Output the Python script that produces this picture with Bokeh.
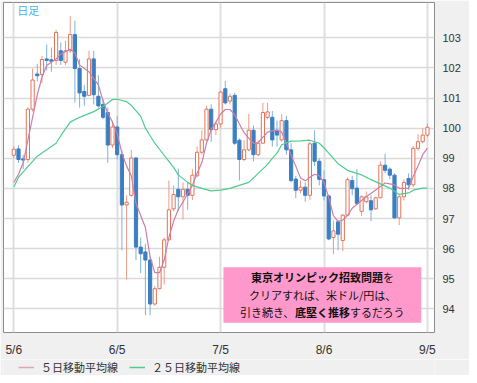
from bokeh.plotting import figure
from bokeh.layouts import column
from bokeh.models import (Range1d, FixedTicker, Legend, LegendItem, Label,
                          BoxAnnotation, ColumnDataSource)
from bokeh.embed import file_html
from bokeh.resources import INLINE

# ---- data (USD/JPY daily, trading-day index) ----
date_labels = ["5/6", "6/5", "7/5", "8/6", "9/5"]
date_index = [0, 22, 44, 66, 88]
price_ticks = [94, 95, 96, 97, 98, 99, 100, 101, 102, 103]
series_names = ["５日移動平均線", "２５日移動平均線"]

opens = [99.10, 99.31, 98.98, 98.96, 100.63, 101.80, 101.78, 102.30, 102.27, 102.25,
         102.57, 102.19, 102.57, 103.11, 101.98, 101.22, 101.09, 102.30, 101.06, 100.79,
         100.52, 99.44, 100.04, 99.12, 97.45, 97.77, 99.01, 96.05, 95.89, 95.62,
         94.16, 94.67, 95.38, 96.29, 97.32, 97.97, 97.72, 97.97, 97.77, 98.42,
         99.20, 99.61, 100.63, 99.95, 100.14, 101.31, 100.90, 101.09, 99.60, 98.96,
         99.28, 99.93, 99.12, 99.50, 100.36, 100.36, 99.93, 99.61, 100.25, 99.28,
         98.31, 97.94, 98.04, 97.77, 99.50, 98.90, 98.29, 97.75, 96.37, 96.89,
         96.27, 97.11, 98.26, 98.01, 97.24, 97.56, 97.59, 97.32, 97.69, 98.77,
         98.64, 98.44, 97.02, 97.72, 98.33, 98.12, 99.33, 99.55, 99.77]
highs = [99.40, 99.44, 99.12, 100.70, 101.98, 102.14, 102.40, 102.78, 102.68, 103.27,
         102.85, 102.90, 103.72, 103.57, 102.30, 101.44, 102.57, 102.57, 101.76, 100.95,
         100.68, 100.25, 100.41, 99.28, 97.77, 99.28, 99.04, 96.37, 96.16, 95.73,
         94.76, 95.73, 96.37, 98.26, 98.10, 98.66, 98.20, 98.20, 98.64, 99.39,
         99.93, 100.74, 100.79, 100.20, 101.25, 101.57, 101.14, 101.17, 99.66, 99.60,
         100.47, 100.09, 99.60, 100.84, 100.84, 100.57, 100.25, 100.47, 100.41, 99.50,
         98.42, 98.26, 98.20, 99.55, 99.93, 99.00, 98.60, 97.80, 96.93, 96.95,
         97.15, 98.36, 98.42, 98.64, 97.77, 97.90, 97.77, 97.72, 98.90, 99.15,
         98.70, 98.50, 97.80, 98.30, 98.50, 99.40, 99.80, 100.00, 100.15]
lows = [99.00, 98.85, 98.64, 98.85, 100.55, 101.55, 101.50, 101.92, 101.87, 102.10,
        102.10, 102.10, 102.50, 100.85, 100.68, 100.74, 101.06, 100.79, 100.68, 100.30,
        98.85, 99.34, 98.96, 95.94, 94.97, 97.72, 95.62, 95.19, 93.79, 93.79,
        94.10, 94.65, 94.81, 96.27, 97.24, 97.24, 96.97, 97.29, 97.61, 98.37,
        99.12, 99.58, 99.55, 99.77, 100.00, 100.79, 100.79, 99.44, 98.26, 98.90,
        99.23, 98.90, 99.06, 99.50, 100.30, 99.39, 99.39, 99.55, 99.12, 98.20,
        97.67, 97.83, 97.56, 97.61, 98.74, 98.10, 97.60, 96.28, 95.81, 95.94,
        95.92, 97.08, 97.77, 97.45, 97.08, 97.50, 96.91, 97.29, 97.67, 98.50,
        98.30, 97.00, 96.78, 97.60, 97.95, 98.05, 99.25, 99.50, 99.70]
closes = [99.30, 98.96, 98.94, 100.63, 101.60, 101.74, 102.28, 102.25, 102.22, 103.18,
          102.25, 102.57, 103.11, 101.98, 101.17, 101.06, 102.30, 101.11, 100.74, 100.36,
          99.44, 100.04, 99.12, 97.45, 97.54, 99.01, 96.05, 95.83, 95.62, 94.16,
          94.67, 95.38, 96.29, 97.29, 97.80, 97.72, 97.97, 97.77, 98.44, 99.20,
          99.61, 100.63, 99.95, 100.14, 101.20, 100.84, 101.06, 99.50, 98.96, 99.28,
          99.93, 99.12, 99.50, 100.52, 100.54, 99.61, 99.77, 100.25, 99.28, 98.26,
          97.94, 98.04, 97.77, 99.48, 98.90, 98.30, 97.75, 96.32, 96.59, 96.48,
          97.11, 98.29, 97.99, 97.50, 97.72, 97.72, 97.29, 97.69, 98.77, 98.60,
          98.44, 97.02, 97.72, 98.20, 98.12, 99.33, 99.55, 99.77, 100.03]

ma5_index = [0, 1, 2, 3, 4, 5, 6, 7, 9, 10, 12, 13, 14, 16, 18, 19, 20, 21, 22, 23,
             24, 25, 26, 28, 29, 30, 31, 32, 33, 34, 35, 36, 37, 38, 39, 40, 41, 42, 43, 44,
             45, 46, 47, 48, 49, 50, 51, 52, 53, 54, 55, 56, 57, 58, 59, 60, 61, 62, 63, 64,
             65, 66, 67, 68, 69, 70, 71, 72, 74, 75, 77, 79, 80, 81, 82, 84, 85, 86, 87, 88]
ma5_value = [98.20, 98.47, 98.85, 99.60, 100.36, 101.11, 101.70, 102.08, 102.30, 102.46,
             102.62, 102.50, 102.10, 101.87, 101.44, 100.90, 100.50, 100.20, 99.82, 99.17,
             98.74, 98.42, 97.50, 96.70, 95.73, 95.20, 95.20, 95.62, 96.37, 96.91,
             97.30, 97.55, 97.83, 98.10, 98.50, 98.85, 99.50, 99.95, 100.20, 100.47,
             100.62, 100.62, 100.45, 100.14, 99.85, 99.66, 99.50, 99.52, 99.70, 99.87,
             99.92, 99.93, 99.87, 99.50, 99.10, 98.74, 98.35, 98.25, 98.37, 98.47,
             98.42, 98.20, 97.70, 97.10, 96.90, 96.95, 97.10, 97.34, 97.60, 97.72,
             97.95, 98.18, 98.15, 98.12, 98.00, 98.00, 98.40, 98.74, 99.12, 99.34]

ma25_index = [0, 1, 2, 4, 5, 7, 9, 10, 12, 14, 17, 19, 21, 22, 24, 25, 27, 28, 29, 30,
              31, 33, 34, 35, 37, 38, 40, 42, 44, 46, 48, 50, 52, 54, 55, 56, 57, 59, 61, 63,
              65, 66, 67, 69, 71, 74, 76, 78, 80, 82, 84, 85, 87, 88]
ma25_value = [98.04, 98.37, 98.55, 98.90, 99.07, 99.28, 99.50, 99.75, 100.20, 100.36,
              100.55, 100.72, 100.95, 100.96, 100.88, 100.76, 100.40, 100.00, 99.75, 99.50,
              99.30, 98.90, 98.70, 98.45, 98.20, 98.10, 98.00, 97.92, 97.94, 98.00,
              98.10, 98.20, 98.50, 98.80, 99.00, 99.17, 99.45, 99.57, 99.58, 99.60,
              99.50, 99.35, 99.17, 98.82, 98.60, 98.45, 98.29, 98.15, 98.01, 97.80,
              97.85, 97.94, 98.01, 98.01]

UP_LINE = "#e3735a"
UP_WICK = "#ec9a86"
DN_FILL = "#3b7fc1"
DN_WICK = "#7fb0da"
MA5_COLOR = "#cc7fa8"
MA25_COLOR = "#4fcc90"
BG = "#f0f0f0"

idx = list(range(len(opens)))
is_up = [c >= o for o, c in zip(opens, closes)]
src = ColumnDataSource(dict(
    x=idx, open=opens, high=highs, low=lows, close=closes,
    top=[max(o, c) for o, c in zip(opens, closes)],
    bottom=[min(o, c) for o, c in zip(opens, closes)],
    fill=["white" if u else DN_FILL for u in is_up],
    line=[UP_LINE if u else DN_FILL for u in is_up],
    wick=[UP_WICK if u else DN_WICK for u in is_up],
))

p = figure(width=469, height=359, output_backend="svg", toolbar_location=None,
           x_range=Range1d(-2.19, 89.51), y_range=Range1d(93.214, 104.174),
           y_axis_location="right",
           min_border_left=3, min_border_top=2, min_border_right=35, min_border_bottom=18,
           background_fill_color="white", border_fill_color=BG)
p.outline_line_color = "#8c8c8c"
p.outline_line_width = 1

# grid
p.xgrid.ticker = FixedTicker(ticks=date_index)
p.ygrid.ticker = FixedTicker(ticks=price_ticks)
p.xgrid.grid_line_color = "#dedede"
p.xgrid.grid_line_width = 2
p.ygrid.grid_line_color = "#dadada"
p.ygrid.grid_line_width = 1.5

# axes
p.xaxis.ticker = FixedTicker(ticks=date_index)
p.xaxis.major_label_overrides = {i: l for i, l in zip(date_index, date_labels)}
p.yaxis.ticker = FixedTicker(ticks=price_ticks)
for ax in (p.xaxis[0], p.yaxis[0]):
    ax.axis_line_color = None
    ax.major_tick_line_color = None
    ax.minor_tick_line_color = None
    ax.major_label_text_color = "#333333"
    ax.major_label_text_font = "Liberation Sans"
p.xaxis.major_label_text_font_size = "12px"
p.xaxis.major_label_standoff = 4
p.yaxis.major_label_text_font_size = "11px"
p.yaxis.major_label_standoff = 2

# candles
p.segment(x0="x", y0="high", x1="x", y1="low", source=src, line_color="wick", line_width=1)
p.vbar(x="x", width=0.68, top="top", bottom="bottom", source=src,
       fill_color="fill", line_color="line", line_width=1)

# moving averages
p.line(ma5_index, ma5_value, line_color=MA5_COLOR, line_width=1.2)
p.line(ma25_index, ma25_value, line_color=MA25_COLOR, line_width=1.2)

# title tag
p.add_layout(Label(x=0.72, y=103.91, text="日足", text_font="Noto Sans CJK JP",
                   text_font_size="11px", text_color="#45b5e8", text_baseline="middle"))

# comment box
p.add_layout(BoxAnnotation(left=44.6, right=86.7, bottom=93.54, top=95.38,
                           fill_color="#ff99cc", fill_alpha=1.0, line_color=None))
cx = 65.7
font = "Noto Sans CJK JP"
fs = "11px"
def lab(y, text, off, bold=False, align="left"):
    p.add_layout(Label(x=cx, y=y, x_offset=off, text=text, text_font=font, text_font_size=fs,
                       text_color="#111111", text_baseline="middle", text_align=align,
                       text_font_style="bold" if bold else "normal"))
lab(95.06, "東京オリンピック招致問題", -71.5, bold=True)
lab(95.06, "を", 60.5)
lab(94.47, "クリアすれば、米ドル/円は、", 0, align="center")
lab(93.89, "引き続き、", -82.5)
lab(93.89, "底堅く推移", -27.5, bold=True)
lab(93.89, "するだろう", 27.5)

# ---- legend strip (separate small figure below the chart) ----
q = figure(width=469, height=16, output_backend="svg", toolbar_location=None,
           x_range=Range1d(0, 1), y_range=Range1d(0, 1),
           x_axis_type=None, y_axis_type=None,
           min_border_left=0, min_border_right=0, min_border_top=0, min_border_bottom=0,
           background_fill_color=BG, border_fill_color=BG)
q.outline_line_color = None
q.grid.visible = False
# the MA series lie outside this strip's ranges; they only feed the legend swatches
k5 = q.line(ma5_index, ma5_value, line_color="#e2a3bd", line_width=1.5)
k25 = q.line(ma25_index, ma25_value, line_color=MA25_COLOR, line_width=1.5)
legend = Legend(items=[LegendItem(label=series_names[0], renderers=[k5]),
                       LegendItem(label=series_names[1], renderers=[k25])],
                orientation="horizontal", location=(15, 0))
legend.background_fill_alpha = 0
legend.border_line_color = None
legend.label_text_font = "Noto Sans CJK JP"
legend.label_text_font_size = "11px"
legend.label_text_color = "#333333"
legend.glyph_width = 16
legend.glyph_height = 12
legend.label_height = 12
legend.label_standoff = 7
legend.spacing = 11
legend.padding = 2
legend.margin = 0
q.add_layout(legend, "center")

layout = column(p, q, spacing=0)
open("out.html", "w").write(file_html(layout, INLINE))
